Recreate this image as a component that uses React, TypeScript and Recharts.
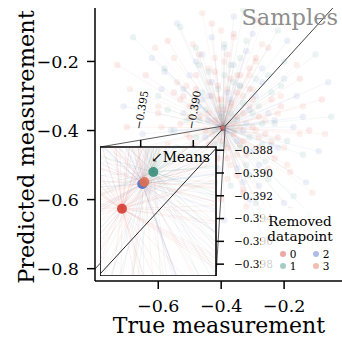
import React from 'react';
import { ScatterChart, Scatter, XAxis, YAxis, ReferenceLine, ReferenceArea, CartesianGrid } from 'recharts';

const removedIds = ['0', '1', '2', '3'];
const groupColors = ['#d43d33', '#3b8f7d', '#4a6cc8', '#e07052'];

// mean prediction per removed datapoint
const meanX = [-0.39678, -0.3938, -0.39485, -0.39466];
const meanY = [-0.39314, -0.38991, -0.39096, -0.39079];

const samples0: [number, number][] = [
  [-0.52, -0.3], [-0.31, -0.22], [-0.45, -0.51], [-0.28, -0.45], [-0.6, -0.35], [-0.36, -0.12],
  [-0.21, -0.33], [-0.47, -0.18], [-0.7, -0.39], [-0.18, -0.52], [-0.33, -0.58], [-0.55, -0.62],
  [-0.25, -0.16], [-0.41, -0.27], [-0.38, -0.48], [-0.12, -0.4], [-0.64, -0.24], [-0.3, -0.31],
  [-0.5, -0.42], [-0.43, -0.09], [-0.26, -0.66], [-0.15, -0.25], [-0.57, -0.14], [-0.35, -0.36],
  [-0.44, -0.35], [-0.33, -0.43], [-0.08, -0.31], [-0.62, -0.51], [-0.22, -0.42], [-0.4, -0.6],
  [-0.48, -0.28], [-0.29, -0.08], [-0.73, -0.21], [-0.19, -0.7], [-0.37, -0.25], [-0.46, -0.46],
  [-0.42, -0.37], [-0.36, -0.41], [-0.4, -0.31], [-0.33, -0.35], [-0.45, -0.4], [-0.38, -0.45],
  [-0.3, -0.39], [-0.43, -0.3], [-0.35, -0.29], [-0.47, -0.36], [-0.39, -0.34], [-0.32, -0.47],
  [-0.44, -0.44], [-0.28, -0.36], [-0.37, -0.32], [-0.41, -0.48], [-0.34, -0.24], [-0.5, -0.33],
  [-0.26, -0.41], [-0.42, -0.23], [-0.31, -0.28], [-0.46, -0.5], [-0.24, -0.31], [-0.53, -0.38],
  [-0.35, -0.53], [-0.29, -0.19], [-0.48, -0.24], [-0.23, -0.48], [-0.55, -0.29], [-0.38, -0.18],
];
const samples1: [number, number][] = [
  [-0.49, -0.33], [-0.34, -0.27], [-0.27, -0.38], [-0.42, -0.44], [-0.58, -0.22], [-0.2, -0.2],
  [-0.39, -0.15], [-0.31, -0.53], [-0.66, -0.45], [-0.14, -0.47], [-0.51, -0.55], [-0.24, -0.29],
  [-0.44, -0.23], [-0.36, -0.4], [-0.1, -0.18], [-0.53, -0.1], [-0.29, -0.61], [-0.47, -0.37],
  [-0.17, -0.59], [-0.6, -0.3], [-0.33, -0.05], [-0.05, -0.36], [-0.4, -0.33], [-0.26, -0.49],
  [-0.68, -0.13], [-0.45, -0.65], [-0.22, -0.11], [-0.37, -0.21], [-0.3, -0.35], [-0.56, -0.4],
  [-0.12, -0.64], [-0.42, -0.55], [-0.25, -0.24], [-0.61, -0.6], [-0.34, -0.45], [-0.48, -0.16],
  [-0.37, -0.35], [-0.42, -0.4], [-0.33, -0.32], [-0.39, -0.44], [-0.45, -0.34], [-0.31, -0.42],
  [-0.41, -0.28], [-0.35, -0.37], [-0.48, -0.42], [-0.28, -0.33], [-0.36, -0.26], [-0.43, -0.47],
  [-0.32, -0.5], [-0.4, -0.36], [-0.27, -0.44], [-0.46, -0.29], [-0.34, -0.19], [-0.51, -0.37],
  [-0.23, -0.38], [-0.39, -0.24], [-0.44, -0.52], [-0.29, -0.25], [-0.54, -0.45], [-0.21, -0.27],
  [-0.37, -0.56], [-0.47, -0.21], [-0.25, -0.54], [-0.57, -0.34], [-0.32, -0.14], [-0.19, -0.43],
];
const samples2: [number, number][] = [
  [-0.46, -0.31], [-0.32, -0.17], [-0.24, -0.44], [-0.53, -0.47], [-0.38, -0.29], [-0.16, -0.3],
  [-0.62, -0.19], [-0.43, -0.13], [-0.28, -0.56], [-0.71, -0.33], [-0.2, -0.61], [-0.35, -0.51],
  [-0.5, -0.24], [-0.27, -0.26], [-0.09, -0.46], [-0.41, -0.39], [-0.58, -0.57], [-0.19, -0.14],
  [-0.36, -0.07], [-0.45, -0.42], [-0.31, -0.34], [-0.65, -0.41], [-0.13, -0.55], [-0.54, -0.09],
  [-0.23, -0.37], [-0.39, -0.66], [-0.48, -0.2], [-0.06, -0.26], [-0.33, -0.4], [-0.59, -0.28],
  [-0.26, -0.73], [-0.44, -0.3], [-0.17, -0.39], [-0.52, -0.35], [-0.3, -0.12], [-0.67, -0.52],
  [-0.4, -0.35], [-0.35, -0.43], [-0.44, -0.37], [-0.37, -0.31], [-0.32, -0.38], [-0.42, -0.46],
  [-0.29, -0.3], [-0.47, -0.33], [-0.38, -0.4], [-0.34, -0.27], [-0.43, -0.26], [-0.3, -0.46],
  [-0.49, -0.45], [-0.36, -0.21], [-0.25, -0.35], [-0.41, -0.51], [-0.52, -0.28], [-0.27, -0.22],
  [-0.33, -0.55], [-0.46, -0.18], [-0.22, -0.45], [-0.55, -0.4], [-0.39, -0.16], [-0.28, -0.5],
  [-0.5, -0.52], [-0.2, -0.25], [-0.44, -0.58], [-0.58, -0.23], [-0.31, -0.6], [-0.14, -0.36],
];
const samples3: [number, number][] = [
  [-0.51, -0.27], [-0.29, -0.2], [-0.35, -0.47], [-0.47, -0.52], [-0.22, -0.35], [-0.59, -0.39],
  [-0.4, -0.11], [-0.14, -0.33], [-0.55, -0.19], [-0.32, -0.62], [-0.69, -0.28], [-0.25, -0.51],
  [-0.44, -0.26], [-0.37, -0.33], [-0.11, -0.58], [-0.49, -0.44], [-0.27, -0.09], [-0.63, -0.58],
  [-0.2, -0.45], [-0.42, -0.19], [-0.34, -0.39], [-0.56, -0.49], [-0.07, -0.41], [-0.46, -0.06],
  [-0.3, -0.28], [-0.23, -0.67], [-0.61, -0.16], [-0.38, -0.54], [-0.16, -0.21], [-0.5, -0.36],
  [-0.28, -0.42], [-0.72, -0.47], [-0.41, -0.31], [-0.18, -0.63], [-0.35, -0.24], [-0.53, -0.31],
  [-0.36, -0.38], [-0.41, -0.34], [-0.34, -0.44], [-0.43, -0.41], [-0.31, -0.33], [-0.38, -0.28],
  [-0.45, -0.47], [-0.29, -0.4], [-0.4, -0.43], [-0.33, -0.3], [-0.48, -0.31], [-0.26, -0.37],
  [-0.37, -0.5], [-0.44, -0.22], [-0.31, -0.24], [-0.51, -0.41], [-0.24, -0.43], [-0.39, -0.2],
  [-0.47, -0.55], [-0.21, -0.3], [-0.33, -0.57], [-0.54, -0.26], [-0.27, -0.15], [-0.42, -0.59],
  [-0.57, -0.44], [-0.19, -0.5], [-0.36, -0.13], [-0.49, -0.15], [-0.15, -0.41], [-0.6, -0.33],
];
const sampleGroups = [samples0, samples1, samples2, samples3];

const mainXTicks = [-0.6, -0.4, -0.2];
const mainYTicks = [-0.8, -0.6, -0.4, -0.2];
const insetXTicks = [-0.395, -0.39];
const insetYTicks = [-0.388, -0.39, -0.392, -0.394, -0.396, -0.398];

const mainXDomain: [number, number] = [-0.801, -0.016];
const mainYDomain: [number, number] = [-0.8357, -0.0452];
const insetXDomain: [number, number] = [-0.39887, -0.38784];
const insetYDomain: [number, number] = [-0.39904, -0.38772];

const FONT = '"DejaVu Serif", serif';
const W = 342;
const H = 337;
// main plot box
const PL = 95, PT = 8, PW = 247, PH = 273;
// inset plot box
const IL = 100, IT = 147, IW = 116, IH = 129;

const pxToX = (px: number) => mainXDomain[0] + ((px - PL) / PW) * (mainXDomain[1] - mainXDomain[0]);
const pxToY = (py: number) => mainYDomain[1] - ((py - PT) / PH) * (mainYDomain[1] - mainYDomain[0]);

const minus = (s: string) => s.replace('-', '\u2212');
const fmt1 = (v: number) => minus(v.toFixed(1));
const fmt3 = (v: number) => minus(v.toFixed(3));

const spokes = (prefix: string, opacity: number, width: number) =>
  sampleGroups.flatMap((g, gi) =>
    g.map(([sx, sy], i) => (
      <ReferenceLine
        key={`${prefix}${gi}-${i}`}
        segment={[{ x: sx, y: sy }, { x: meanX[gi], y: meanY[gi] }]}
        stroke={groupColors[gi]}
        strokeOpacity={opacity}
        strokeWidth={width}
        ifOverflow="hidden"
      />
    ))
  );

const InsetTopTick = (props: any) => {
  const { x, y, payload } = props;
  const tx = x - 3;
  return (
    <text x={tx} y={y} transform={`rotate(-80 ${tx} ${y})`} textAnchor="start" dominantBaseline="central"
      fontSize={10.5} fontFamily={FONT} fill="#000">
      {fmt3(payload.value)}
    </text>
  );
};

export default function App() {
  const axisLine = { stroke: '#000', strokeWidth: 1.5 };
  return (
    <div style={{ position: 'absolute', left: 0, top: 0, width: W, height: H, background: '#fff', fontFamily: FONT, overflow: 'hidden' }}>
      <ScatterChart width={W} height={H} margin={{ top: PT, right: 0, bottom: 0, left: 0 }}>
        <XAxis type="number" dataKey="x" domain={mainXDomain} allowDataOverflow ticks={mainXTicks}
          tickFormatter={fmt1} height={H - PT - PH} tickSize={8} tickMargin={11}
          tick={{ fontSize: 17.5, fill: '#000', fontFamily: FONT }} axisLine={axisLine} tickLine={axisLine} />
        <YAxis type="number" dataKey="y" domain={mainYDomain} allowDataOverflow ticks={mainYTicks}
          tickFormatter={fmt1} width={PL} tickSize={8} tickMargin={8}
          tick={{ fontSize: 17.5, fill: '#000', fontFamily: FONT }} axisLine={axisLine} tickLine={axisLine} />
        {spokes('m', 0.085, 0.7)}
        {sampleGroups.map((g, gi) => (
          <Scatter key={`ms${gi}`} data={g.map(([x, y]) => ({ x, y }))} isAnimationActive={false}
            shape={(p: any) => <circle cx={p.cx} cy={p.cy} r={3.2} fill={groupColors[gi]} fillOpacity={0.1} />} />
        ))}
        {removedIds.map((id, gi) => (
          <Scatter key={`mm${id}`} data={[{ x: meanX[gi], y: meanY[gi] }]} isAnimationActive={false}
            shape={(p: any) => <circle cx={p.cx} cy={p.cy} r={2} fill={groupColors[gi]} fillOpacity={0.8} />} />
        ))}
        <ReferenceLine segment={[{ x: -0.9, y: -0.9 }, { x: 0, y: 0 }]} stroke="#111" strokeWidth={0.8} ifOverflow="hidden" />
        <ReferenceArea x1={insetXDomain[0]} x2={insetXDomain[1]} y1={insetYDomain[0]} y2={insetYDomain[1]}
          fill="none" stroke="#333" strokeWidth={0.8} ifOverflow="visible" />
        <ReferenceLine segment={[{ x: insetXDomain[0], y: insetYDomain[1] }, { x: pxToX(IL), y: pxToY(IT) }]}
          stroke="#333" strokeWidth={0.8} ifOverflow="visible" />
        <ReferenceLine segment={[{ x: insetXDomain[1], y: insetYDomain[0] }, { x: pxToX(IL + IW), y: pxToY(IT + IH) }]}
          stroke="#333" strokeWidth={0.8} ifOverflow="visible" />
      </ScatterChart>

      <div style={{ position: 'absolute', right: 4, top: 5, fontSize: 22.5, lineHeight: 1.15, color: '#8e8e8e' }}>Samples</div>
      <div style={{ position: 'absolute', left: 219, top: 326, transform: 'translate(-50%, -50%)', fontSize: 22, lineHeight: 0.95, whiteSpace: 'nowrap' }}>
        True measurement
      </div>
      <div style={{ position: 'absolute', left: 26, top: 147, transform: 'translate(-50%, -50%) rotate(-90deg)', fontSize: 22.5, lineHeight: 1, whiteSpace: 'nowrap' }}>
        Predicted measurement
      </div>

      <div style={{ position: 'absolute', left: IL, top: IT - 60 }}>
        <ScatterChart width={IW + 60} height={IH + 60} margin={{ top: 0, right: 0, bottom: 0, left: 0 }}>
          <CartesianGrid horizontal={false} vertical={false} fill="#fff" />
          <XAxis type="number" dataKey="x" orientation="top" domain={insetXDomain} allowDataOverflow ticks={insetXTicks}
            height={60} tickSize={7} tickMargin={11} tick={<InsetTopTick />} axisLine={false} tickLine={axisLine} />
          <YAxis type="number" dataKey="y" orientation="right" domain={insetYDomain} allowDataOverflow ticks={insetYTicks}
            tickFormatter={fmt3} width={60} tickSize={8} tickMargin={10}
            tick={{ fontSize: 10.5, fill: '#000', fontFamily: FONT }} axisLine={false} tickLine={axisLine} />
          {spokes('i', 0.11, 0.7)}
          <ReferenceLine segment={[{ x: -0.4, y: -0.4 }, { x: -0.38, y: -0.38 }]} stroke="#111" strokeWidth={0.9} ifOverflow="hidden" />
          {removedIds.map((id, gi) => (
            <Scatter key={`im${id}`} data={[{ x: meanX[gi], y: meanY[gi] }]} isAnimationActive={false}
              shape={(p: any) => <circle cx={p.cx} cy={p.cy} r={5} fill={groupColors[gi]} fillOpacity={0.9} />} />
          ))}
          <ReferenceArea x1={insetXDomain[0]} x2={insetXDomain[1]} y1={insetYDomain[0]} y2={insetYDomain[1]}
            fill="none" stroke="#000" strokeWidth={1.6} ifOverflow="visible" />
        </ScatterChart>
      </div>

      <div style={{ position: 'absolute', left: 151, top: 157, transform: 'translateY(-50%)', fontSize: 14, lineHeight: 1, whiteSpace: 'nowrap' }}>
        {'\u2199Means'}
      </div>

      <div style={{ position: 'absolute', left: 261, top: 208, width: 81, height: 67, background: 'rgba(255,255,255,0.8)' }}>
        <div style={{ position: 'absolute', left: 0, top: 6, width: 78, textAlign: 'center', fontSize: 13.5, lineHeight: '15px' }}>
          Removed<br />datapoint
        </div>
        {removedIds.map((id, i) => {
          const col = Math.floor(i / 2);
          const row = i % 2;
          const cy = 46 + row * 12;
          const mx = 22 + col * 33;
          return (
            <React.Fragment key={`lg${id}`}>
              <div style={{ position: 'absolute', left: mx - 3, top: cy - 3, width: 6, height: 6, borderRadius: 3, background: groupColors[i], opacity: 0.45 }} />
              <div style={{ position: 'absolute', left: mx + 10, top: cy, transform: 'translate(-50%, -50%)', fontSize: 10.5, lineHeight: '12px' }}>{id}</div>
            </React.Fragment>
          );
        })}
      </div>
    </div>
  );
}
